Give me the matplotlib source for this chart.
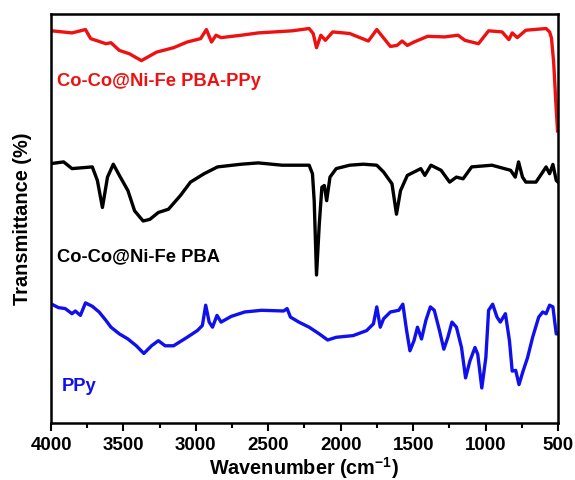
import matplotlib
matplotlib.use("Agg")
import matplotlib.pyplot as plt
from matplotlib.ticker import MultipleLocator

plt.rcParams['font.family'] = ['Liberation Sans', 'DejaVu Sans']
plt.rcParams['font.weight'] = 'bold'
plt.rcParams['mathtext.fontset'] = 'custom'
plt.rcParams['mathtext.rm'] = 'Liberation Sans:bold'
plt.rcParams['mathtext.bf'] = 'Liberation Sans:bold'
plt.rcParams['mathtext.default'] = 'bf'

# Co-Co@Ni-Fe PBA-PPy (red), offset transmittance (a.u.)
red_wn = [4000, 3995, 3855, 3762, 3726, 3621, 3586, 3528, 3458, 3376, 3271, 3154, 3060,
          2967, 2927, 2892, 2861, 2826, 2686, 2569, 2335, 2218, 2190, 2167, 2137, 2106,
          2055, 1938, 1809, 1751, 1657, 1611, 1576, 1540, 1494, 1400, 1283, 1190, 1143,
          1049, 979, 886, 839, 816, 781, 722, 582, 558, 545, 530, 515, 503]
red_t = [391, 391.1, 389.0, 392.4, 383.3, 378.2, 379.2, 371.5, 368.1, 361.3, 369.8, 374.2, 379.9,
         383.3, 392.4, 379.9, 386.7, 384.3, 386.7, 389.0, 391.1, 393.4, 388.4, 374.2, 386.7, 381.6,
         390.0, 388.4, 380.9, 392.4, 375.5, 376.5, 380.9, 376.5, 379.9, 385.6, 385.0, 386.7, 381.6,
         378.2, 391.1, 390.0, 382.3, 389.0, 384.3, 391.7, 393.4, 390.0, 384.0, 360.0, 320.0, 291.0]

# Co-Co@Ni-Fe PBA (black)
black_wn = [4000, 3995, 3913, 3855, 3715, 3680, 3645, 3610, 3570, 3528, 3469, 3423, 3364, 3317,
            3259, 3189, 3107, 3037, 2943, 2850, 2686, 2569, 2405, 2218, 2195, 2183, 2167, 2148,
            2130, 2113, 2097, 2074, 2031, 1938, 1844, 1751, 1704, 1646, 1615, 1587, 1540, 1447,
            1419, 1377, 1307, 1248, 1201, 1155, 1096, 956, 827, 795, 772, 745, 722, 652, 605,
            582, 558, 535, 512, 500]
black_t = [258, 258.4, 260.0, 253.3, 255.0, 241.5, 214.4, 244.8, 257.7, 246.5, 231.3, 211.1, 200.9, 202.6,
           209.4, 212.7, 226.3, 239.8, 248.2, 255.0, 257.7, 259.0, 256.7, 256.7, 248.2, 221.2, 146.9, 197.5,
           234.7, 236.4, 221.2, 244.8, 253.3, 256.7, 257.7, 256.7, 249.9, 238.1, 207.7, 231.3, 246.5, 253.3,
           246.5, 256.7, 251.6, 239.8, 244.8, 243.1, 255.0, 256.7, 251.6, 244.8, 260.0, 244.8, 239.8, 239.8, 249.9,
           255.0, 248.2, 257.5, 241.5, 239.8]

# PPy (blue)
blue_wn = [4000, 3995, 3949, 3902, 3855, 3832, 3797, 3762, 3715, 3668, 3621, 3586, 3528, 3469, 3411,
           3359, 3306, 3259, 3212, 3154, 3060, 2990, 2955, 2932, 2908, 2885, 2854, 2826, 2756, 2663,
           2546, 2394, 2370, 2347, 2289, 2218, 2148, 2090, 2031, 1914, 1821, 1774, 1751, 1727, 1704,
           1657, 1599, 1571, 1545, 1522, 1494, 1470, 1442, 1412, 1381, 1354, 1318, 1288, 1260, 1232,
           1201, 1166, 1138, 1108, 1073, 1054, 1026, 998, 979, 951, 921, 898, 863, 835, 816, 792,
           769, 741, 710, 675, 633, 605, 582, 558, 535, 512, 500]
blue_t = [117.7, 117.7, 114.3, 113.3, 108.2, 110.9, 106.5, 119.0, 115.6, 109.9, 101.5, 94.7, 88.0, 82.9, 76.1,
          68.4, 76.1, 81.2, 76.1, 76.1, 84.6, 91.3, 96.4, 116.7, 99.8, 94.7, 106.5, 99.8, 105.5, 109.9,
          111.6, 110.9, 113.3, 104.8, 99.8, 94.7, 88.0, 81.9, 84.6, 86.3, 91.3, 98.1, 115.0, 94.7, 103.1,
          109.9, 111.6, 117.7, 91.3, 71.1, 81.2, 94.7, 82.9, 101.5, 115.0, 111.6, 91.3, 72.7, 84.6, 99.8,
          94.7, 74.4, 44.0, 60.9, 74.4, 67.7, 33.9, 64.3, 111.6, 117.7, 104.8, 99.8, 108.2, 81.2, 50.8, 51.5,
          37.3, 50.8, 64.3, 84.6, 104.8, 109.9, 108.2, 116.7, 115.0, 88.0, 88.0]

labels = ["Co-Co@Ni-Fe PBA-PPy", "Co-Co@Ni-Fe PBA", "PPy"]
colors = ["#ee1111", "#000000", "#1010ee"]
xticks = [4000, 3500, 3000, 2500, 2000, 1500, 1000, 500]

fig = plt.figure(figsize=(5.75, 4.8), dpi=100)
ax = fig.add_axes([0.0887, 0.119, 0.8817, 0.852])

ax.plot(red_wn, red_t, color=colors[0], lw=2.4)
ax.plot(black_wn, black_t, color=colors[1], lw=2.4)
ax.plot(blue_wn, blue_t, color=colors[2], lw=2.4)

ax.text(3960, 336, labels[0], color=colors[0], fontsize=13.2, fontweight='bold', va='baseline', ha='left')
ax.text(3960, 161, labels[1], color=colors[1], fontsize=13.2, fontweight='bold', va='baseline', ha='left')
ax.text(3925, 30.5, labels[2], color=colors[2], fontsize=13.2, fontweight='bold', va='baseline', ha='left')

ax.set_xlim(4000, 500)
ax.set_ylim(-1, 408)
ax.set_xticks(xticks)
ax.set_xticklabels([str(v) for v in xticks])
ax.xaxis.set_minor_locator(MultipleLocator(250))
ax.set_yticks([])
ax.tick_params(axis='x', which='major', direction='out', length=6, width=1.5, labelsize=13.5, pad=4)
ax.tick_params(axis='x', which='minor', direction='out', length=3.5, width=1.5)
for lab in ax.get_xticklabels():
    lab.set_fontweight('bold')
for s in ax.spines.values():
    s.set_linewidth(1.8)

ax.set_xlabel(r"Wavenumber (cm$^{-1}$)", fontsize=14.3, fontweight='bold', labelpad=1)
ax.set_ylabel("Transmittance (%)", fontsize=14.4, fontweight='bold', labelpad=14)

fig.savefig("out.png", dpi=100)
